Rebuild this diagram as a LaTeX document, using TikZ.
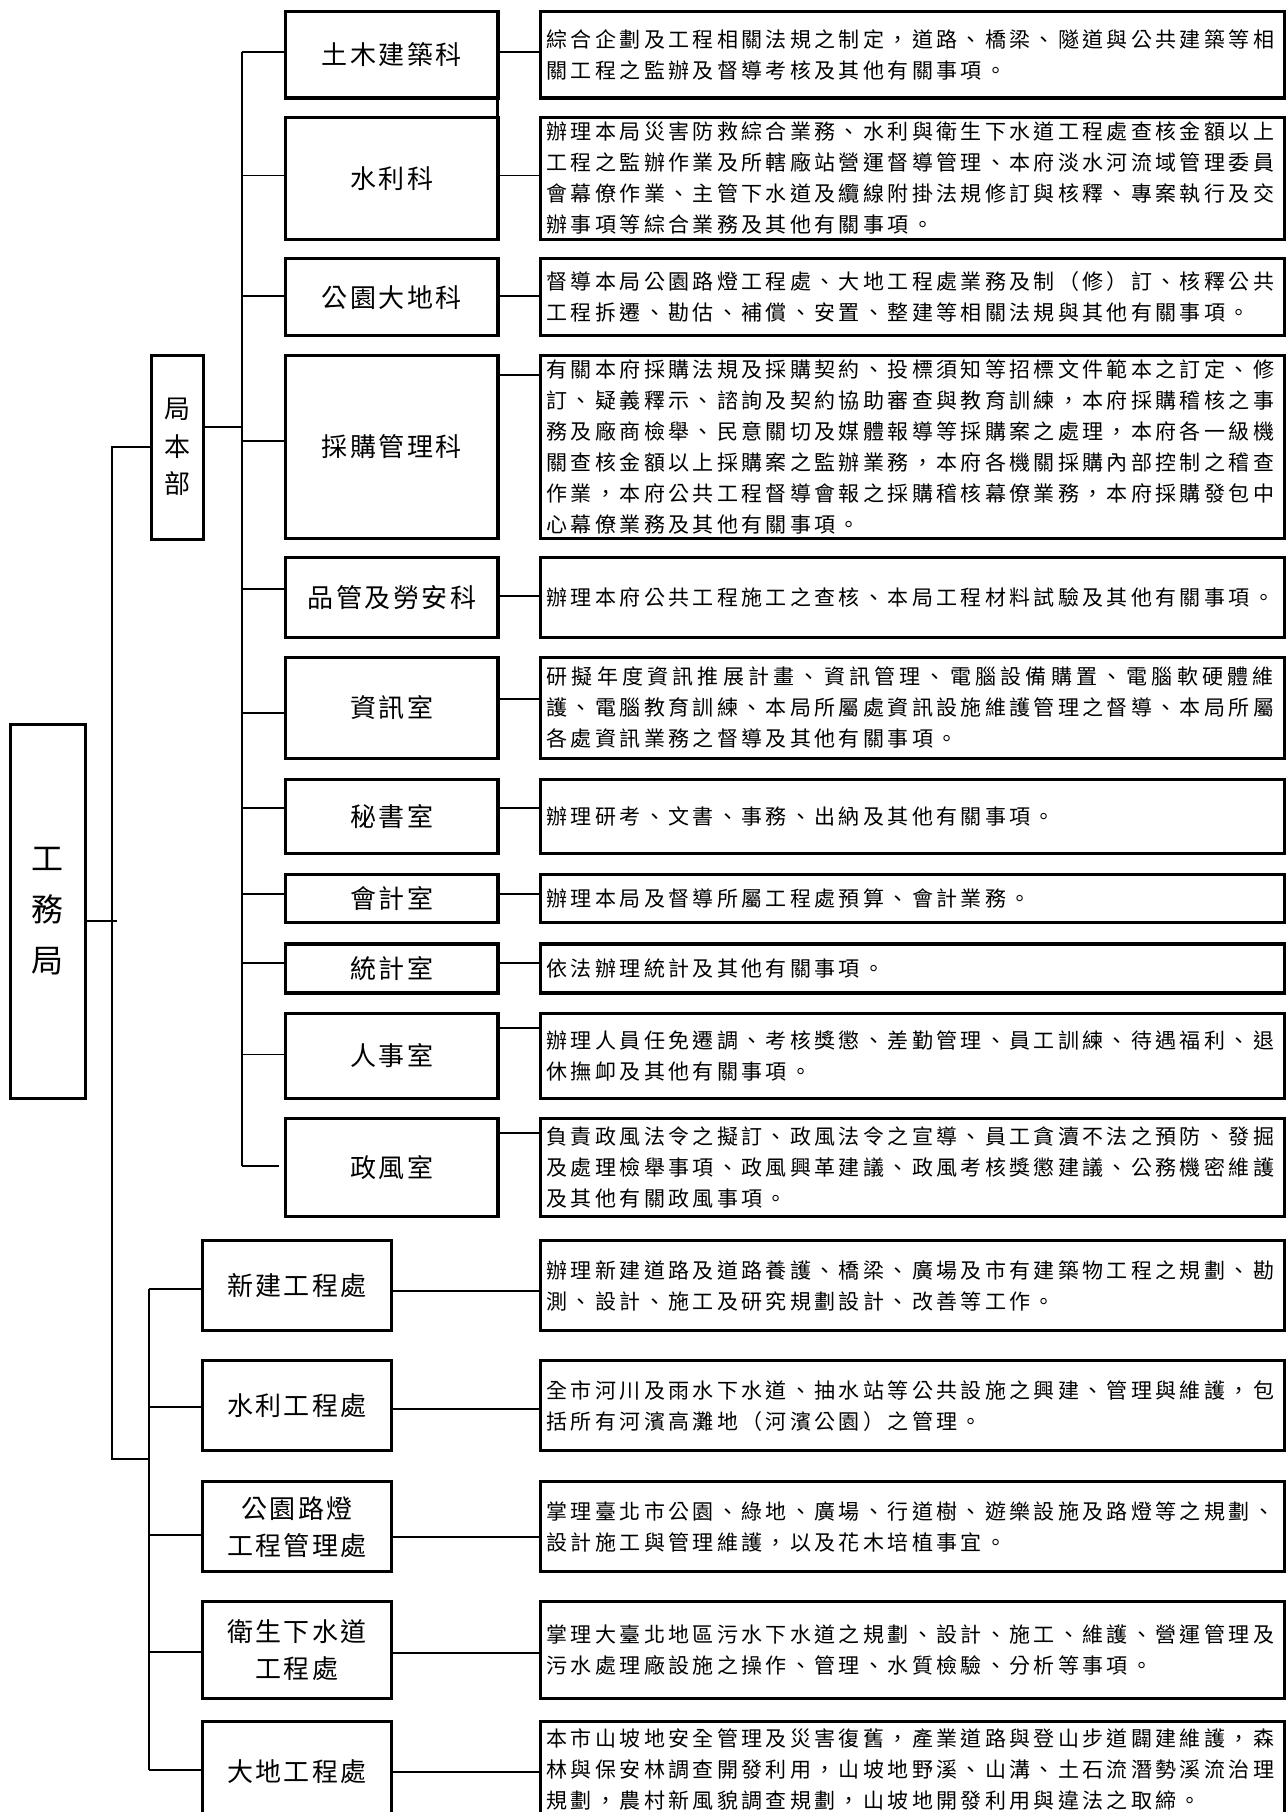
\documentclass[tikz,border=0pt]{standalone}
\usepackage{fontspec}
\newfontfamily\descfont[LetterSpace=16]{Noto Sans CJK TC}
\newfontfamily\namefont[LetterSpace=9.6]{Noto Sans CJK TC}
\newfontfamily\rootfont{Noto Sans CJK TC}
\newcommand{\hconn}[3]{\draw[conn] (#1 |- 0,#3) -- (#2 |- 0,#3);}
\begin{document}
\begin{tikzpicture}[x=0.5pt,y=-0.5pt,
  box/.style={draw, line width=1.65pt, inner sep=0pt, anchor=north west},
  namebox/.style={box, minimum width=106.15pt, font=\namefont\fontsize{13pt}{18.5pt}\selectfont, align=center},
  procbox/.style={box, minimum width=94.35pt, font=\namefont\fontsize{13pt}{18.5pt}\selectfont, align=center},
  rootbox/.style={box, font=\rootfont\fontsize{16pt}{25.5pt}\selectfont, align=center},
  descbox/.style={box, minimum width=372pt, font=\descfont\fontsize{10.5pt}{15.5pt}\selectfont, align=left, text width=366pt},
  conn/.style={line width=0.9pt}]
\useasboundingbox (0,0) rectangle (1287,1812);
\clip (0,0) rectangle (1287,1812);

% root and 局本部
\node[rootbox, minimum width=37.35pt, minimum height=186.8pt] (r) at (9,723) {工\\務\\局};
\node[box, minimum width=26pt, minimum height=91.95pt, font=\namefont\fontsize{13pt}{18.75pt}\selectfont, align=center] (b) at (150,353.6) {局\\本\\部};

% sections
\node[namebox, minimum height=43.2pt] (s1) at (284,10) {土木建築科};
\node[namebox, minimum height=60.75pt] (s2) at (284,116) {水利科};
\node[namebox, minimum height=38.5pt] (s3) at (284,257) {公園大地科};
\node[namebox, minimum height=91.6pt] (s4) at (284,353.6) {採購管理科};
\node[namebox, minimum height=40.05pt] (s5) at (284,555.7) {品管及勞安科};
\node[namebox, minimum height=50.75pt] (s6) at (284,655.5) {資訊室};
\node[namebox, minimum height=37.05pt] (s7) at (284,777.6) {秘書室};
\node[namebox, minimum height=24.2pt] (s8) at (284,872.7) {會計室};
\node[namebox, minimum height=24.6pt] (s9) at (284,942.2) {統計室};
\node[namebox, minimum height=42.5pt] (s10) at (284,1011.6) {人事室};
\node[namebox, minimum height=48.85pt] (s11) at (284,1116.8) {政風室};

% 工程處
\node[procbox, minimum height=45pt] (p1) at (201,1239) {新建工程處};
\node[procbox, minimum height=45pt] (p2) at (201,1359) {水利工程處};
\node[procbox, minimum height=45pt] (p3) at (201,1480) {公園路燈\\工程管理處};
\node[procbox, minimum height=48.5pt] (p4) at (201,1600) {衛生下水道\\工程處};
\node[procbox, minimum height=50.5pt] (p5) at (201,1719.5) {大地工程處};

% descriptions
\node[descbox, minimum height=43.2pt] (d1) at (539,10) {綜合企劃及工程相關法規之制定，道路、橋梁、隧道與公共建築等相\\關工程之監辦及督導考核及其他有關事項。};
\node[descbox, minimum height=60.75pt] (d2) at (539,116) {辦理本局災害防救綜合業務、水利與衛生下水道工程處查核金額以上\\工程之監辦作業及所轄廠站營運督導管理、本府淡水河流域管理委員\\會幕僚作業、主管下水道及纜線附掛法規修訂與核釋、專案執行及交\\辦事項等綜合業務及其他有關事項。};
\node[descbox, minimum height=38.5pt] (d3) at (539,257) {督導本局公園路燈工程處、大地工程處業務及制（修）訂、核釋公共\\工程拆遷、勘估、補償、安置、整建等相關法規與其他有關事項。};
\node[descbox, minimum height=91.6pt] (d4) at (539,353.6) {有關本府採購法規及採購契約、投標須知等招標文件範本之訂定、修\\訂、疑義釋示、諮詢及契約協助審查與教育訓練，本府採購稽核之事\\務及廠商檢舉、民意關切及媒體報導等採購案之處理，本府各一級機\\關查核金額以上採購案之監辦業務，本府各機關採購內部控制之稽查\\作業，本府公共工程督導會報之採購稽核幕僚業務，本府採購發包中\\心幕僚業務及其他有關事項。};
\node[descbox, minimum height=40.05pt] (d5) at (539,555.7) {辦理本府公共工程施工之查核、本局工程材料試驗及其他有關事項。};
\node[descbox, minimum height=50.75pt] (d6) at (539,655.5) {{\addfontfeature{LetterSpace=20.1}研擬年度資訊推展計畫、資訊管理、電腦設備購置、電腦軟硬體維}\\護、電腦教育訓練、本局所屬處資訊設施維護管理之督導、本局所屬\\各處資訊業務之督導及其他有關事項。};
\node[descbox, minimum height=37.05pt] (d7) at (539,777.6) {辦理研考、文書、事務、出納及其他有關事項。};
\node[descbox, minimum height=24.2pt] (d8) at (539,872.7) {辦理本局及督導所屬工程處預算、會計業務。};
\node[descbox, minimum height=24.6pt] (d9) at (539,942.2) {依法辦理統計及其他有關事項。};
\node[descbox, minimum height=42.5pt] (d10) at (539,1011.6) {辦理人員任免遷調、考核獎懲、差勤管理、員工訓練、待遇福利、退\\休撫卹及其他有關事項。};
\node[descbox, minimum height=48.85pt] (d11) at (539,1116.8) {負責政風法令之擬訂、政風法令之宣導、員工貪瀆不法之預防、發掘\\及處理檢舉事項、政風興革建議、政風考核獎懲建議、公務機密維護\\及其他有關政風事項。};
\node[descbox, minimum height=45pt] (d12) at (539,1239) {辦理新建道路及道路養護、橋梁、廣場及市有建築物工程之規劃、勘\\測、設計、施工及研究規劃設計、改善等工作。};
\node[descbox, minimum height=45pt] (d13) at (539,1359) {全市河川及雨水下水道、抽水站等公共設施之興建、管理與維護，包\\括所有河濱高灘地（河濱公園）之管理。};
\node[descbox, minimum height=45pt] (d14) at (539,1480) {掌理臺北市公園、綠地、廣場、行道樹、遊樂設施及路燈等之規劃、\\設計施工與管理維護，以及花木培植事宜。};
\node[descbox, minimum height=48.5pt] (d15) at (539,1600) {掌理大臺北地區污水下水道之規劃、設計、施工、維護、營運管理及\\污水處理廠設施之操作、管理、水質檢驗、分析等事項。};
\node[descbox, minimum height=48.25pt] (d16) at (539,1719.5) {本市山坡地安全管理及災害復舊，產業道路與登山步道闢建維護，森\\林與保安林調查開發利用，山坡地野溪、山溝、土石流潛勢溪流治理\\規劃，農村新風貌調查規劃，山坡地開發利用與違法之取締。};

% spines
\coordinate (secsp) at (241.7,0);
\coordinate (mainsp) at (112,0);
\coordinate (subsp) at (149,0);
\coordinate (rootend) at (117,920.7);
\coordinate (pgend) at (278.6,1166);

\draw[conn] (secsp |- 0,52.1) -- (secsp |- 0,1166);
\draw[conn] (b.west) -| (mainsp |- 0,1459) -- (subsp |- 0,1459);
\draw[conn] (subsp |- 0,1288.7) -- (subsp |- 0,1770);
\draw[conn] (r.east |- rootend) -- (rootend);
\hconn{b.east}{secsp}{426.8}

% section left connectors
\hconn{secsp}{s1.west}{52.1}
\hconn{secsp}{s2.west}{175.4}
\hconn{secsp}{s3.west}{296}
\hconn{secsp}{s4.west}{441}
\hconn{secsp}{s5.west}{588.6}
\hconn{secsp}{s6.west}{712.8}
\hconn{secsp}{s7.west}{808.3}
\hconn{secsp}{s8.west}{893.8}
\hconn{secsp}{s9.west}{962.8}
\hconn{secsp}{s10.west}{1054.5}
\draw[conn] (secsp |- pgend) -- (pgend);

% 工程處 left connectors
\hconn{subsp}{p1.west}{1288.7}
\hconn{subsp}{p2.west}{1407}
\hconn{subsp}{p3.west}{1535}
\hconn{subsp}{p4.west}{1652}
\hconn{subsp}{p5.west}{1770}

% right connectors
\hconn{s1.east}{d1.west}{52.1}
\hconn{s2.east}{d2.west}{175.4}
\hconn{s3.east}{d3.west}{296}
\hconn{s4.east}{d4.west}{375}
\hconn{s5.east}{d5.west}{595.8}
\hconn{s6.east}{d6.west}{698.9}
\hconn{s7.east}{d7.west}{808.3}
\hconn{s8.east}{d8.west}{893.8}
\hconn{s9.east}{d9.west}{962.8}
\hconn{s10.east}{d10.west}{1028}
\hconn{s11.east}{d11.west}{1133.2}
\hconn{p1.east}{d12.west}{1290.6}
\hconn{p2.east}{d13.west}{1409}
\hconn{p3.east}{d14.west}{1536.7}
\hconn{p4.east}{d15.west}{1653}
\hconn{p5.east}{d16.west}{1772}

% short joint between the first two section boxes
\draw[line width=1.2pt] ([xshift=-1pt]s1.south east) -- ([xshift=-1pt]s2.north east);
\end{tikzpicture}
\end{document}
